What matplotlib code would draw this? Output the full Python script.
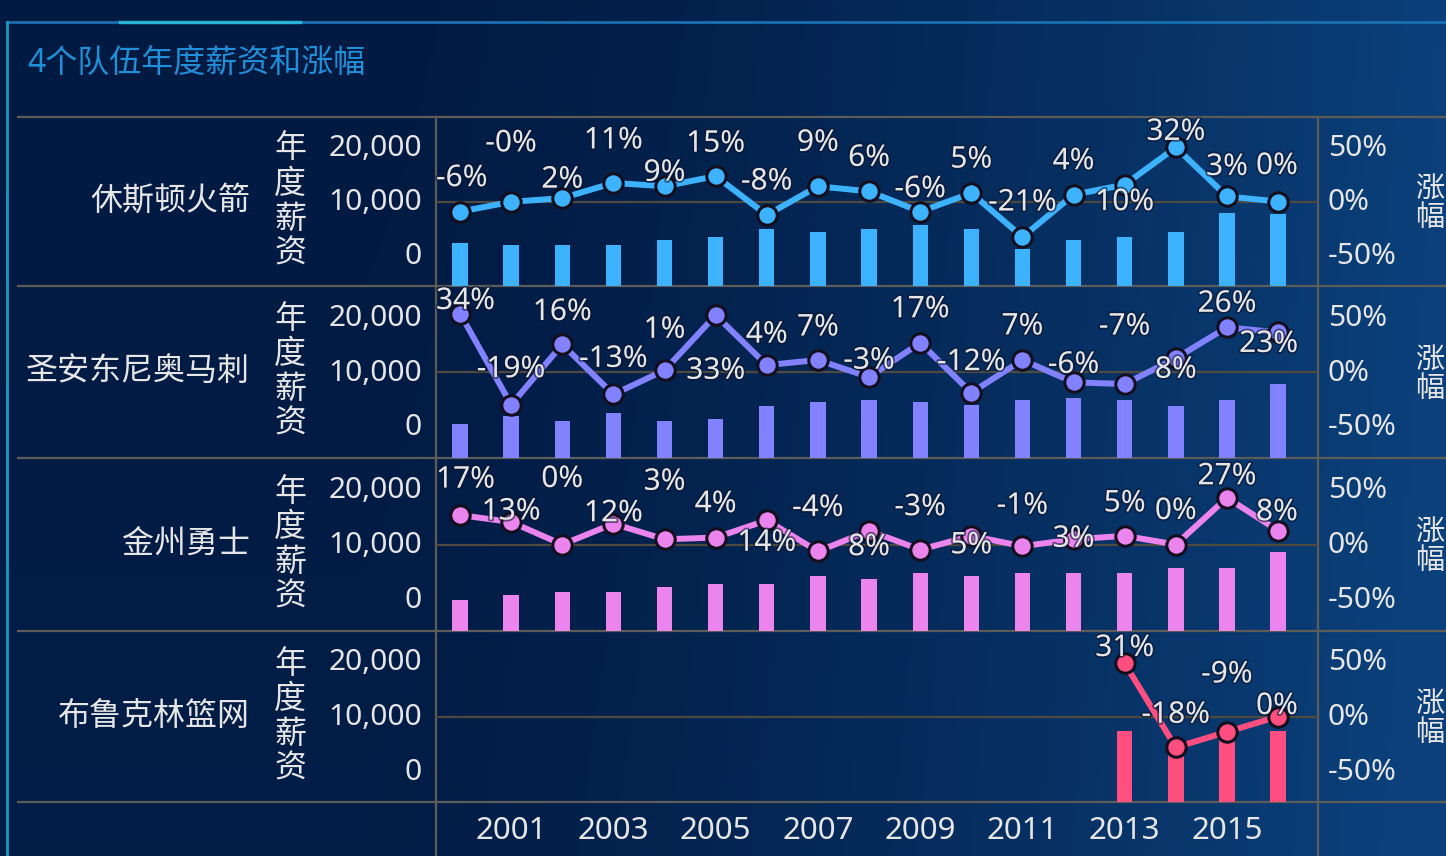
import numpy as np
import matplotlib.pyplot as plt
import matplotlib.patheffects as pe

plt.rcParams['font.family'] = ['Noto Sans', 'Noto Sans CJK SC', 'DejaVu Sans']

nan = np.nan
years = list(range(2000, 2017))
teams = ['休斯顿火箭', '圣安东尼奥马刺', '金州勇士', '布鲁克林篮网']
colors = ['#3db2ff', '#8282ff', '#ec84ee', '#ff4f80']

# annual salary (bars)
rockets_salary = [5050, 4850, 4850, 4850, 5450, 5760, 6710, 6390, 6710, 7220, 6710, 4400, 5450, 5760, 6390, 8600, 8520]
spurs_salary = [3920, 4880, 4300, 5200, 4300, 4540, 6080, 6480, 6740, 6510, 6160, 6740, 7010, 6740, 6080, 6740, 8600]
warriors_salary = [3580, 4160, 4540, 4540, 5120, 5430, 5430, 6360, 6050, 6670, 6390, 6670, 6670, 6670, 7250, 7250, 9170]
nets_salary = [nan] * 13 + [8300, 6800, 7300, 8300]

# growth rate (line)
rockets_growth = [-0.06, -0.002, 0.02, 0.11, 0.09, 0.15, -0.08, 0.09, 0.06, -0.06, 0.05, -0.21, 0.04, 0.10, 0.32, 0.03, 0.0]
spurs_growth = [0.34, -0.19, 0.16, -0.13, 0.01, 0.33, 0.04, 0.07, -0.03, 0.17, -0.12, 0.07, -0.06, -0.07, 0.08, 0.26, 0.23]
warriors_growth = [0.17, 0.13, 0.0, 0.12, 0.03, 0.04, 0.14, -0.04, 0.08, -0.03, 0.05, -0.01, 0.03, 0.05, 0.0, 0.27, 0.08]
nets_growth = [nan] * 13 + [0.31, -0.18, -0.09, 0.0]

salaries = [rockets_salary, spurs_salary, warriors_salary, nets_salary]
growths = [rockets_growth, spurs_growth, warriors_growth, nets_growth]

# vertical offset (pixels) of each data label from its point
rockets_dy = [33, 58, 18, 42, 13, 32, 33, 43, 33, 22, 33, 34, 33, -18, 15, 29, 35]
spurs_dy = [12, 35, 32, 35, 40, -56, 30, 32, 16, 33, 30, 33, 17, 57, -12, 23, -12]
warriors_dy = [35, 10, 65, 10, 57, 33, -23, 43, -17, 42, -10, 40, 0, 32, 33, 21, 18]
nets_dy = [0] * 13 + [15, 32, 57, 10]
label_dy = [rockets_dy, spurs_dy, warriors_dy, nets_dy]

W, H = 1446, 856
txt = '#e6e6e6'
grid = '#5e5c56'
fig = plt.figure(figsize=(W / 100, H / 100), dpi=100)

# background in pixel coordinates
bg = fig.add_axes([0, 0, 1, 1])
bg.set_xlim(0, W)
bg.set_ylim(H, 0)
bg.axis('off')
gx, gy = np.meshgrid(np.linspace(0, 1, 400), np.linspace(0, 1, 200))
t = np.clip((gx - 0.25) / 0.75, 0, 1) ** 1.4 + 0.08 * gy
c0 = np.array([1, 26, 66]) / 255
c1 = np.array([11, 64, 122]) / 255
img = c0 + (c1 - c0) * np.clip(t, 0, 1)[..., None]
bg.imshow(img, extent=[0, W, H, 0], aspect='auto', zorder=0)

# frame decorations
bg.plot([7, W], [22, 22], color='#1a6fb0', lw=2, zorder=1)
bg.plot([120, 300], [22, 22], color='#2fd6e8', lw=2.5, alpha=0.7, zorder=1)
bg.plot([7, 7], [22, H], color='#1a9ac0', lw=2, zorder=1)
for yy in [117, 286, 458, 631, 802]:
    bg.plot([18, W], [yy, yy], color=grid, lw=1.6, zorder=1)
for xx in [436, 1318]:
    bg.plot([xx, xx], [117, H], color=grid, lw=1.6, zorder=1)
bg.text(27, 63, '4个队伍年度薪资和涨幅', color='#1f8fd8', fontsize=23,
        ha='left', va='center')

x = np.arange(len(years))
tops = [117, 286, 458, 631]
bots = [286, 458, 631, 802]
L, R = 436, 1318
stroke = [pe.withStroke(linewidth=2.5, foreground='#0b1530', alpha=0.6)]
labels = []

for i in range(4):
    rect = [L / W, 1 - bots[i] / H, (R - L) / W, (bots[i] - tops[i]) / H]
    lab = fig.add_axes(rect)
    lab.set_facecolor('none')
    lab.set_xlim(-0.47, 16.78)
    lab.set_ylim(-6100, 25200)
    lab.set_yticks([0, 10000, 20000])
    lab.set_yticklabels(['0', '10,000', '20,000'])
    lab.tick_params(axis='y', length=0, pad=10, labelsize=21.5, colors=txt)
    if i == 3:
        lab.set_xticks(x[1::2])
        lab.set_xticklabels([str(y) for y in years[1::2]])
        lab.tick_params(axis='x', length=0, pad=10, labelsize=22.5, colors=txt)
    else:
        lab.set_xticks([])
    for s in lab.spines.values():
        s.set_visible(False)

    sec = lab.secondary_yaxis('right', functions=(lambda v: (v - 10000) / 20000,
                                                  lambda p: p * 20000 + 10000))
    sec.set_yticks([-0.5, 0, 0.5])
    sec.set_yticklabels(['-50%', '0%', '50%'])
    sec.tick_params(length=0, pad=7, labelsize=21.5, colors=txt)
    for s in sec.spines.values():
        s.set_visible(False)

    lab.text(-0.211, 0.5, teams[i], transform=lab.transAxes, ha='right',
             va='center', fontsize=23, color=txt)
    lab.text(-0.1655, 0.5, '年\n度\n薪\n资', transform=lab.transAxes, ha='center',
             va='center', fontsize=23, color=txt, linespacing=1.08)
    lab.text(1.127, 0.485, '涨\n幅', transform=lab.transAxes, ha='center',
             va='center', fontsize=21, color=txt, linespacing=1.0, clip_on=False)

    axb = lab.twinx()
    axb.set_ylim(0, 20000)
    axb.axhline(10000, color='#4e4a40', lw=1.6, zorder=0.5)
    axb.bar(x, salaries[i], width=0.3, color=colors[i], zorder=2)
    axb.set_yticks([])
    for s in axb.spines.values():
        s.set_visible(False)

    axl = lab.twinx()
    axl.set_ylim(-0.5, 0.5)
    axl.plot(x, growths[i], color=colors[i], lw=4.3, marker='o', ms=14,
             mfc=colors[i], mec='#140f1e', mew=2.2, zorder=3)
    axl.set_yticks([])
    for s in axl.spines.values():
        s.set_visible(False)
    for j, v in enumerate(growths[i]):
        if np.isnan(v):
            continue
        a = axl.annotate(f'{v:.0%}', (x[j], v), xytext=(0, label_dy[i][j]),
                         textcoords='offset pixels', ha='center', va='center',
                         fontsize=21.5, color=txt, annotation_clip=False, zorder=5,
                         path_effects=stroke)
        labels.append(a)

# keep labels inside the plot area like the original
fig.canvas.draw()
rend = fig.canvas.get_renderer()
for a in labels:
    bb = a.get_window_extent(rend)
    dx, dy = a.xyann
    if bb.x0 < L:
        a.xyann = (dx + L - bb.x0, dy)
    elif bb.x1 > 1298:
        a.xyann = (dx - (bb.x1 - 1298), dy)

fig.savefig('out.png', dpi=100)
